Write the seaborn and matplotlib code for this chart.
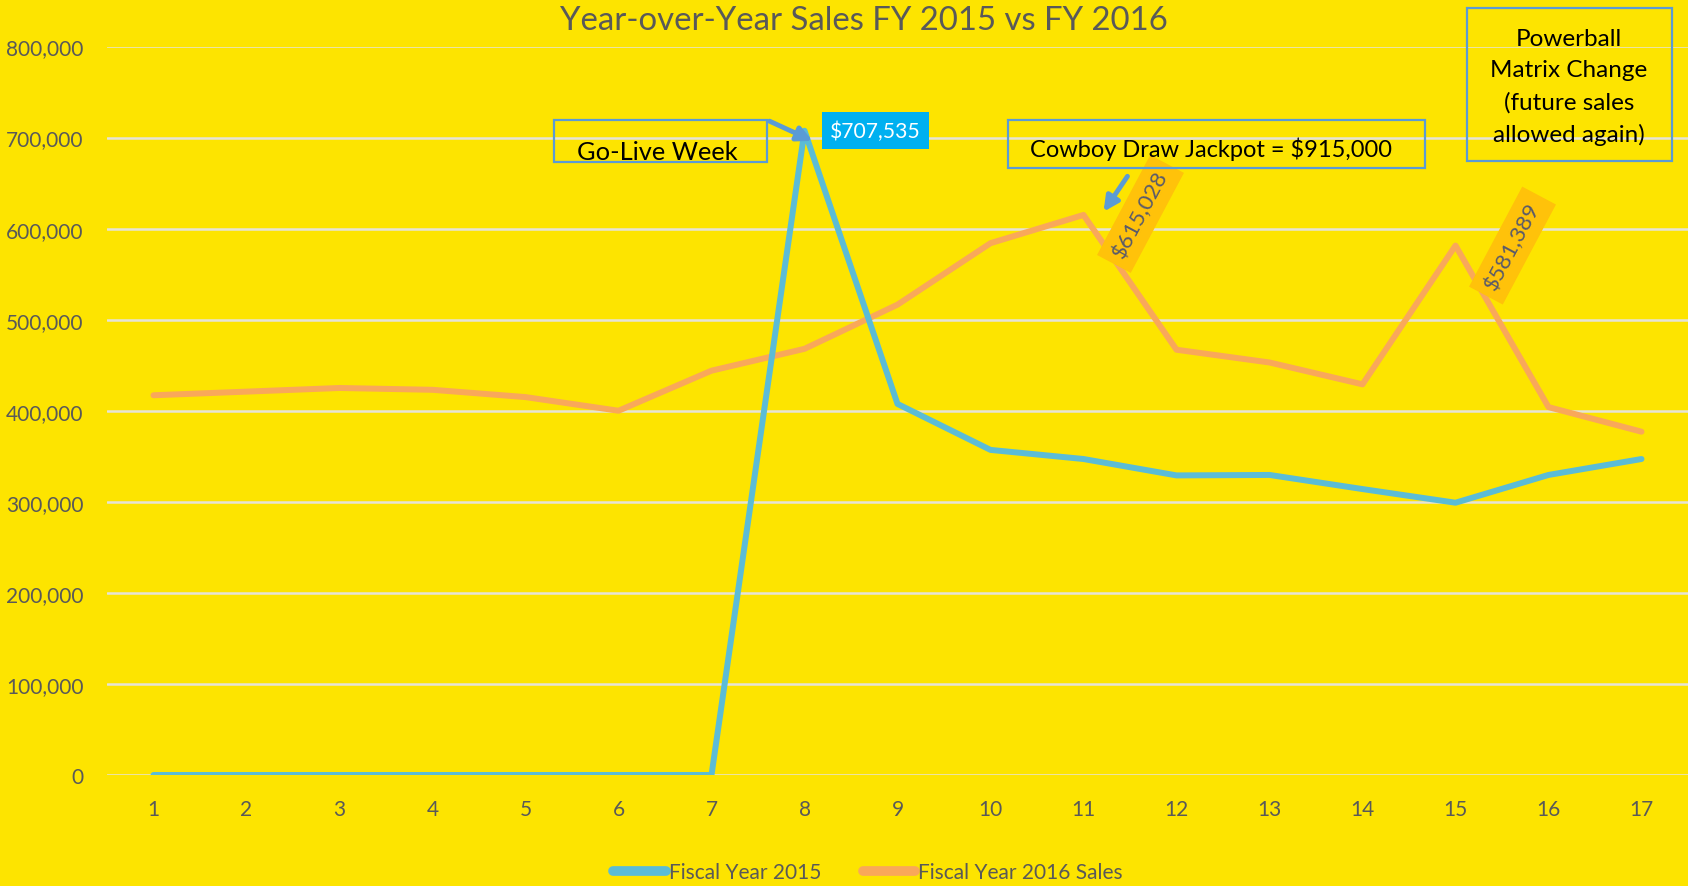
import matplotlib
matplotlib.use("Agg")
import matplotlib.pyplot as plt
import seaborn as sns
import pandas as pd
from matplotlib.patches import Rectangle, FancyArrowPatch
from matplotlib.lines import Line2D
from matplotlib.ticker import FuncFormatter, MultipleLocator

# ---- data ----
weeks = list(range(1, 18))
fy2015 = [0, 0, 0, 0, 0, 0, 0, 707535, 407500, 357000, 347000, 329000,
          329500, 314000, 299000, 329500, 347000]
fy2016 = [417000, 421000, 425000, 423000, 415000, 400000, 444000, 468000,
          516500, 584000, 615028, 467000, 453000, 429000, 581389, 404000, 377000]
series_names = ["Fiscal Year 2015", "Fiscal Year 2016 Sales"]
title = "Year-over-Year Sales FY 2015 vs FY 2016"
note_golive = "Go-Live Week"
note_cowboy = "Cowboy Draw Jackpot = $915,000"
note_powerball = ["Powerball", "Matrix Change", "(future sales", "allowed again)"]

BG = "#FDE400"
BLUE = "#5BBCD6"
ORANGE = "#F9A85A"
GRAY = "#595959"
EDGE = "#5B9BD5"

W, H = 1688, 887
sns.set_theme(style="white")
plt.rcParams["font.family"] = ["Lato", "DejaVu Sans"]

fig = plt.figure(figsize=(W / 100, H / 100), dpi=100, facecolor=BG)
ax = fig.add_axes([107 / W, 1 - 776 / H, 1 - 107 / W, (776 - 47.5) / H])
ax.set_facecolor(BG)

df = pd.DataFrame({
    "week": weeks * 2,
    "sales": fy2015 + fy2016,
    "series": [series_names[0]] * len(weeks) + [series_names[1]] * len(weeks),
})
sns.lineplot(data=df, x="week", y="sales", hue="series",
             palette={series_names[0]: BLUE, series_names[1]: ORANGE},
             hue_order=[series_names[1], series_names[0]],
             linewidth=4.3, ax=ax, legend=False, zorder=3)

ax.set_xlim(0.5, 17.5)
ax.set_ylim(0, 800000)
ax.set_xticks(weeks)
ax.yaxis.set_major_locator(MultipleLocator(100000))
ax.yaxis.set_major_formatter(FuncFormatter(lambda v, p: f"{int(v):,}"))
ax.grid(axis="y", color="#E6E3D8", linewidth=1.8, zorder=1)
ax.grid(axis="x", visible=False)
ax.set_axisbelow(True)
for s in ax.spines.values():
    s.set_visible(False)
ax.tick_params(axis="both", length=0, labelsize=15, labelcolor=GRAY)
ax.tick_params(axis="y", pad=17)
ax.tick_params(axis="x", pad=17)
ax.set_xlabel("")
ax.set_ylabel("")

def fx(x):
    return x / W

def fy(y):
    return 1 - y / H

# title
fig.text(fx(864), fy(30), title, ha="center", va="baseline",
         fontsize=23.7, color=GRAY)

# boxes
def box(x0, y0, x1, y1):
    fig.add_artist(Rectangle((fx(x0), fy(y1)), fx(x1) - fx(x0), fy(y0) - fy(y1),
                             transform=fig.transFigure, fill=False,
                             edgecolor=EDGE, linewidth=1.6, zorder=6))

box(554, 121, 767, 163)
fig.text(fx(657), fy(160), note_golive, ha="center", va="baseline",
         fontsize=18.3, color="black")

box(1008, 121, 1425, 169)
fig.text(fx(1211), fy(157), note_cowboy, ha="center", va="baseline",
         fontsize=17, color="black")

box(1467, 9, 1672, 162)
for line, yb in zip(note_powerball, [45.7, 77.3, 109.5, 141.7]):
    fig.text(fx(1569), fy(yb), line, ha="center", va="baseline",
             fontsize=17.5, color="black")

# arrows
def arrow(x0, y0, x1, y1):
    fig.add_artist(FancyArrowPatch((fx(x0), fy(y0)), (fx(x1), fy(y1)),
                                   transform=fig.transFigure,
                                   arrowstyle="-|>", mutation_scale=22,
                                   linewidth=3.5, color=EDGE, zorder=7))

arrow(767, 121, 815, 143)
arrow(1129, 175, 1102, 215)

# data labels
i8 = weeks.index(8)
ax.annotate(f"${fy2015[i8]:,}", xy=(weeks[i8], fy2015[i8]),
            xytext=(71, 0), textcoords="offset pixels",
            ha="center", va="center", fontsize=15.2, color="white",
            bbox=dict(boxstyle="square,pad=0.38", fc="#00B0F0", ec="none"),
            zorder=8)

for wk, off in [(11, (57, 1)), (15, (57, 0))]:
    i = weeks.index(wk)
    ax.annotate(f"${fy2016[i]:,}", xy=(weeks[i], fy2016[i]),
                xytext=off, textcoords="offset pixels",
                ha="center", va="center", rotation=62, rotation_mode="anchor",
                fontsize=16, color="#5A5A6A",
                bbox=dict(boxstyle="square,pad=0.4", fc="#FFC20A", ec="none"),
                zorder=8)

# legend
handles = [Line2D([], [], color=BLUE, linewidth=7, solid_capstyle="round"),
           Line2D([], [], color=ORANGE, linewidth=7, solid_capstyle="round")]
leg = fig.legend(handles, series_names, loc="center",
                 bbox_to_anchor=(fx(868), fy(873)), ncol=2, frameon=False,
                 fontsize=15, handlelength=2.5, handletextpad=0.15,
                 columnspacing=2.0)
for t in leg.get_texts():
    t.set_color(GRAY)

fig.savefig("out.png", dpi=100, facecolor=BG)
